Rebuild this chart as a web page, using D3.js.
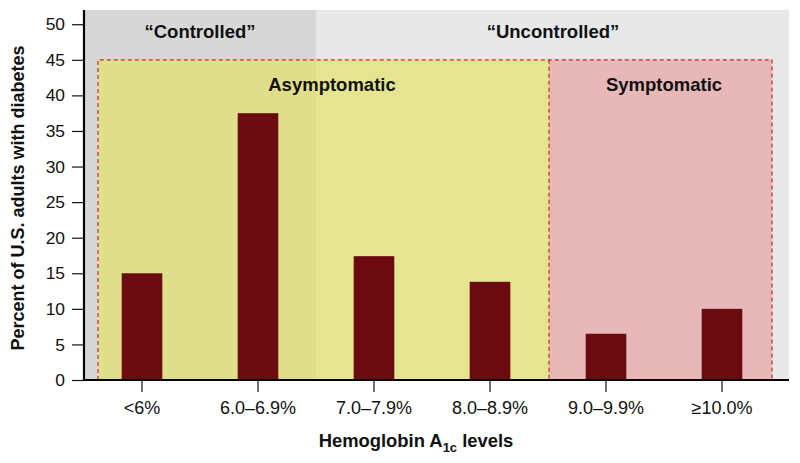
<!DOCTYPE html>
<html><head><meta charset="utf-8">
<script src="https://cdn.jsdelivr.net/npm/d3@7"></script>
<style>
body{margin:0;background:#fff;}
text{font-family:"Liberation Sans",Arial,Helvetica,sans-serif;}
</style></head>
<body><svg id="c" width="800" height="463"></svg>
<script>
const categories = ["<6%", "6.0–6.9%", "7.0–7.9%", "8.0–8.9%", "9.0–9.9%", "≥10.0%"];
const values = [15.0, 37.5, 17.4, 13.8, 6.5, 10.0];
const yTicks = [0, 5, 10, 15, 20, 25, 30, 35, 40, 45, 50];
const controlGroups = ["“Controlled”", "“Uncontrolled”"];
const symptomGroups = ["Asymptomatic", "Symptomatic"];
const boxTop = 45;

(function () {
const svg = d3.select("#c");
const mLeft = 84, mRight = 780, plotRight = 789, mTop = 10, mBottom = 380;
const x = d3.scaleBand().domain(categories).range([mLeft, mRight]).paddingInner(0.65).paddingOuter(0.325);
const y = d3.scaleLinear().domain([0, 52]).range([mBottom, mTop]);
const step = x.step();
const bx = i => mLeft + step * i; // band boundary

// gray backgrounds
svg.append("rect").attr("x", bx(0)).attr("y", mTop).attr("width", bx(2) - bx(0)).attr("height", mBottom - mTop).attr("fill", "#d7d7d7");
svg.append("rect").attr("x", bx(2)).attr("y", mTop).attr("width", plotRight - bx(2)).attr("height", mBottom - mTop).attr("fill", "#e8e8e8");

// symptom boxes
const boxL = bx(0) + 14, boxM = bx(4) + 1, boxR = bx(6) - 8;
svg.append("rect").attr("x", boxL).attr("y", y(boxTop)).attr("width", boxM - boxL).attr("height", mBottom - y(boxTop))
  .attr("fill", "#e4e25a").attr("fill-opacity", 0.62);
svg.append("rect").attr("x", boxM).attr("y", y(boxTop)).attr("width", boxR - boxM).attr("height", mBottom - y(boxTop))
  .attr("fill", "#e8b8b9");
const dash = "4,3";
svg.append("path").attr("d", `M${boxL},${mBottom}V${y(boxTop)}H${boxR}V${mBottom}M${boxM},${y(boxTop)}V${mBottom}`)
  .attr("fill", "none").attr("stroke", "#cc2a2a").attr("stroke-width", 1.2).attr("stroke-dasharray", dash);

// bars
svg.selectAll("rect.bar").data(values).join("rect").attr("class", "bar")
  .attr("x", (d, i) => x(categories[i])).attr("width", x.bandwidth())
  .attr("y", d => y(d)).attr("height", d => mBottom - y(d)).attr("fill", "#6b0a11");

// group labels
const lab = (t, cx, cy) => svg.append("text").attr("x", cx).attr("y", cy).attr("text-anchor", "middle")
  .attr("font-weight", "bold").attr("font-size", 18.5).attr("fill", "#111").text(t);
lab(controlGroups[0], 200, 38);
lab(controlGroups[1], 553, 38);
lab(symptomGroups[0], 332, 91);
lab(symptomGroups[1], 664, 91);

// axes
const yAxis = svg.append("g").attr("transform", `translate(${mLeft},0)`)
  .call(d3.axisLeft(y).tickValues(yTicks).tickSize(12).tickPadding(7));
yAxis.select(".domain").remove();
yAxis.selectAll("line").attr("stroke", "#111").attr("stroke-width", 1.2);
yAxis.selectAll("text").attr("font-size", 17.4).attr("fill", "#111").attr("font-family", "Liberation Sans, Arial, sans-serif");

const xAxis = svg.append("g").attr("transform", `translate(0,${mBottom})`)
  .call(d3.axisBottom(x).tickSize(12).tickPadding(9));
xAxis.select(".domain").remove();
xAxis.selectAll("line").attr("stroke", "#111").attr("stroke-width", 1.2);
xAxis.selectAll("text").attr("font-size", 18).attr("fill", "#111").attr("font-family", "Liberation Sans, Arial, sans-serif");

svg.append("line").attr("x1", mLeft).attr("x2", mLeft).attr("y1", mTop).attr("y2", mBottom + 1)
  .attr("stroke", "#000").attr("stroke-width", 2.2);
svg.append("line").attr("x1", mLeft - 1).attr("x2", plotRight).attr("y1", mBottom).attr("y2", mBottom)
  .attr("stroke", "#000").attr("stroke-width", 2.2);

// axis titles
svg.append("text").attr("transform", `translate(24,198) rotate(-90)`)
  .attr("text-anchor", "middle").attr("font-weight", "bold").attr("font-size", 18).attr("fill", "#111")
  .text("Percent of U.S. adults with diabetes");
const xt = svg.append("text").attr("x", 416).attr("y", 447).attr("text-anchor", "middle")
  .attr("font-weight", "bold").attr("font-size", 18.4).attr("fill", "#111");
xt.append("tspan").text("Hemoglobin A");
xt.append("tspan").attr("font-size", 13).attr("dy", 5).text("1c");
xt.append("tspan").attr("dy", -5).text(" levels");
})();
</script></body></html>
